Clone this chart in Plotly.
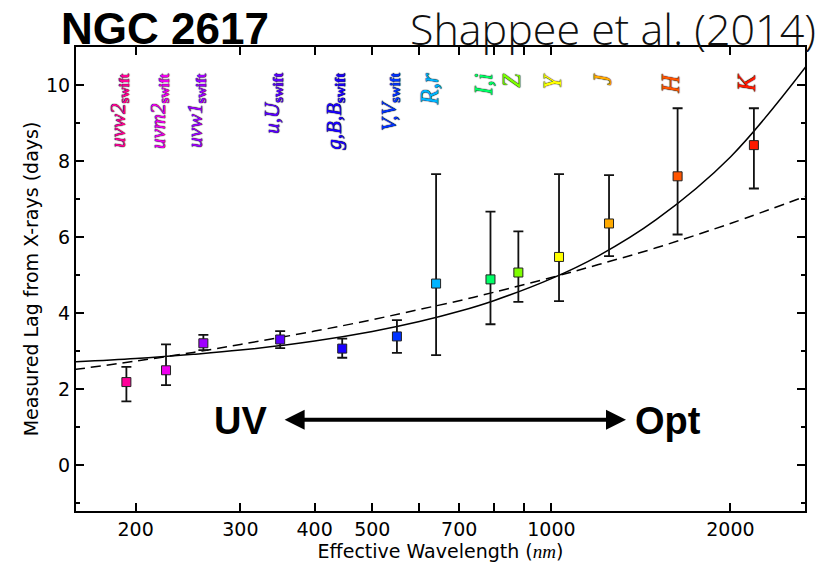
import math
import plotly.graph_objects as go

# ---------------- data ----------------
band_labels = [
    "<i>uvw2</i><sub><b>swift</b></sub>",
    "<i>uvm2</i><sub><b>swift</b></sub>",
    "<i>uvw1</i><sub><b>swift</b></sub>",
    "<i>u,U</i><sub><b>swift</b></sub>",
    "<i>g,B,B</i><sub><b>swift</b></sub>",
    "<i>V,V</i><sub><b>swift</b></sub>",
    "<i>R,r</i>",
    "<i>I,i</i>",
    "<i>Z</i>",
    "<i>Y</i>",
    "<i>J</i>",
    "<i>H</i>",
    "<i>K</i>",
]
wavelength_nm = [193, 225, 260, 350, 445, 550, 640, 790, 880, 1030, 1250, 1630, 2190]
lag_days = [2.19, 2.50, 3.21, 3.31, 3.07, 3.39, 4.78, 4.89, 5.07, 5.48, 6.36, 7.60, 8.42]
err_plus = [0.40, 0.68, 0.22, 0.22, 0.26, 0.43, 2.88, 1.78, 1.08, 2.18, 1.27, 1.79, 0.97]
err_minus = [0.51, 0.39, 0.18, 0.23, 0.24, 0.43, 1.88, 1.18, 0.77, 1.16, 0.86, 1.53, 1.14]
band_colors = ["#ff0099", "#ee00ee", "#a000ff", "#5c00ff", "#1a00ff", "#0033ff",
               "#00b4ff", "#00ff66", "#7fff00", "#ffff00", "#ffaa00", "#ff5500", "#ff1a00"]

model_wavelength_nm = [158, 200, 250, 300, 400, 500, 600, 700, 800, 1000, 1200, 1500, 2000, 2680]
model_solid = [2.72, 2.81, 2.92, 3.03, 3.27, 3.52, 3.78, 4.05, 4.33, 4.91, 5.51, 6.46, 8.11, 10.49]
model_dashed = [2.52, 2.74, 2.97, 3.18, 3.53, 3.83, 4.10, 4.33, 4.55, 4.94, 5.28, 5.72, 6.36, 7.08]

x_tickvals = [200, 300, 400, 500, 600, 700, 800, 900, 1000, 2000]
x_ticktext = ["200", "300", "400", "500", "", "700", "", "", "1000", "2000"]
y_tickvals = [0, 2, 4, 6, 8, 10]
x_range_nm = [158.8, 2669]
y_range = [-1.2, 11]

# ---------------- figure ----------------
fig = go.Figure()

fig.add_trace(go.Scatter(
    x=model_wavelength_nm, y=model_dashed, mode="lines",
    line=dict(color="black", width=1.5, dash="10px,6px", shape="spline"),
    hoverinfo="skip", showlegend=False))
fig.add_trace(go.Scatter(
    x=model_wavelength_nm, y=model_solid, mode="lines",
    line=dict(color="black", width=1.5, shape="spline"),
    hoverinfo="skip", showlegend=False))
fig.add_trace(go.Scatter(
    x=wavelength_nm, y=lag_days, mode="markers",
    marker=dict(symbol="square", size=9, color=band_colors,
                line=dict(color="#222222", width=1)),
    error_y=dict(type="data", symmetric=False, array=err_plus, arrayminus=err_minus,
                 color="#111111", thickness=1.8, width=5),
    showlegend=False))

annotations = []
for lab, wl, col in zip(band_labels, wavelength_nm, band_colors):
    size = 21 if "swift" in lab else 25
    annotations.append(dict(
        x=math.log10(wl), y=10.37, xref="x", yref="y", text=lab, showarrow=False,
        textangle=-90, xanchor="center", yanchor="top", xshift=-7,
        font=dict(family="Liberation Serif", size=size, color=col,
                  shadow="0px 0px 1px #000000, 0px 0px 1px #000000")))

# titles
annotations.append(dict(
    x=-0.0233, y=1.0388, xref="paper", yref="paper", text="<b>NGC 2617</b>",
    showarrow=False, xanchor="left", yanchor="middle",
    font=dict(family="Liberation Sans", size=44, color="black")))
annotations.append(dict(
    x=1.0178, y=1.0388, xref="paper", yref="paper", text="Shappee et al. (2014)",
    showarrow=False, xanchor="right", yanchor="middle",
    font=dict(family="Open Sans", size=43, color="#111111", weight=300)))

# UV <-> Opt arrow
annotations.append(dict(
    x=math.log10(1335), y=1.2, ax=math.log10(354), ay=1.2,
    xref="x", yref="y", axref="x", ayref="y", text="", showarrow=True,
    arrowhead=2, startarrowhead=2, arrowside="end+start", arrowwidth=4,
    arrowsize=1, startarrowsize=1, arrowcolor="black", standoff=0, startstandoff=0))
annotations.append(dict(
    x=math.log10(300), y=1.17, xref="x", yref="y", text="<b>UV</b>", showarrow=False,
    xanchor="center", yanchor="middle",
    font=dict(family="Liberation Sans", size=38, color="black")))
annotations.append(dict(
    x=math.log10(1570), y=1.17, xref="x", yref="y", text="<b>Opt</b>", showarrow=False,
    xanchor="center", yanchor="middle",
    font=dict(family="Liberation Sans", size=38, color="black")))

fig.update_layout(
    width=823, height=562,
    margin=dict(l=76, r=18, t=47, b=51, autoexpand=False),
    paper_bgcolor="white", plot_bgcolor="white",
    annotations=annotations,
    font=dict(family="DejaVu Sans", size=19, color="black"),
)

fig.update_xaxes(
    type="log", range=[math.log10(x_range_nm[0]), math.log10(x_range_nm[1])],
    tickmode="array", tickvals=x_tickvals, ticktext=x_ticktext,
    ticks="inside", ticklen=8, tickwidth=1.5, tickcolor="black",
    showline=True, linecolor="black", linewidth=2, mirror="ticks",
    showgrid=False, zeroline=False,
    tickfont=dict(family="DejaVu Sans", size=19),
    title=dict(text="Effective Wavelength (<span style=\"font-family:'Liberation Serif';font-style:italic\">nm</span>)",
               font=dict(family="DejaVu Sans", size=19), standoff=3),
)
fig.update_yaxes(
    range=y_range, tickmode="array", tickvals=y_tickvals,
    ticks="inside", ticklen=8, tickwidth=1.5, tickcolor="black",
    minor=dict(dtick=1, tick0=0, ticks="inside", ticklen=4, tickwidth=1.5, tickcolor="black"),
    showline=True, linecolor="black", linewidth=2, mirror="ticks",
    showgrid=False, zeroline=False,
    tickfont=dict(family="DejaVu Sans", size=19),
    title=dict(text="Measured Lag from X-rays (days)",
               font=dict(family="DejaVu Sans", size=19), standoff=2),
)

fig.write_html("out.html")
